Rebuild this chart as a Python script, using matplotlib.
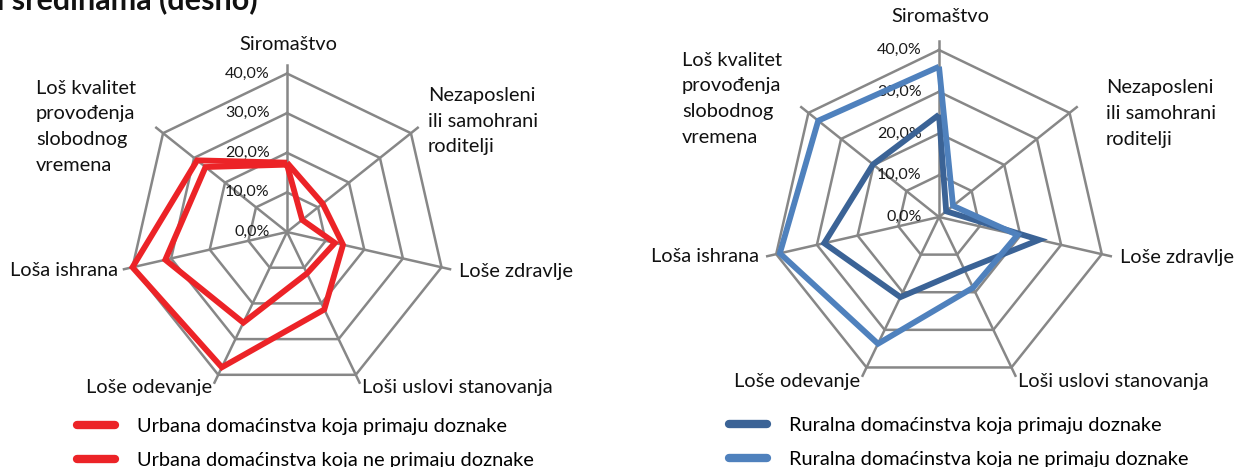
import numpy as np
import matplotlib
matplotlib.use("Agg")
import matplotlib.pyplot as plt
from matplotlib import transforms

plt.rcParams['font.family'] = ['Lato', 'DejaVu Sans']

# ---------------- data ----------------
categories = ['Siromaštvo', 'Nezaposleni ili samohrani roditelji', 'Loše zdravlje',
              'Loši uslovi stanovanja', 'Loše odevanje', 'Loša ishrana',
              'Loš kvalitet provođenja slobodnog vremena']
levels = [0, 10, 20, 30, 40]
level_labels = ['0,0%', '10,0%', '20,0%', '30,0%', '40,0%']

urban_recv = [17.0, 4.9, 12.4, 11.6, 25.4, 31.5, 26.3]
urban_norecv = [17.5, 11.5, 14.5, 21.7, 37.9, 40.0, 29.0]
rural_recv = [24.5, 2.2, 24.6, 14.0, 21.3, 28.2, 20.2]
rural_norecv = [36.0, 4.3, 19.3, 18.8, 33.7, 39.1, 37.0]

legend_urban = ['Urbana domaćinstva koja primaju doznake',
                'Urbana domaćinstva koja ne primaju doznake']
legend_rural = ['Ruralna domaćinstva koja primaju doznake',
                'Ruralna domaćinstva koja ne primaju doznake']

title_text = 'u ruralnim sredinama (desno)'

# ---------------- style ----------------
W, H = 1236, 467
GRID = '#878787'
RED = '#EC2327'
DARK = '#3B6396'
LIGHT = '#4F81BD'
FS = 14.4

fig = plt.figure(figsize=(W / 100, H / 100), dpi=100)

n = len(categories)
angles = np.linspace(0, 2 * np.pi, n, endpoint=False)
ang_closed = np.concatenate([angles, angles[:1]])


def px_axes(cx, cy, r):
    return fig.add_axes([(cx - r) / W, 1 - (cy + r) / H, 2 * r / W, 2 * r / H],
                        projection='polar')


def radar(ax, series, colors):
    ax.set_theta_zero_location('N')
    ax.set_theta_direction(-1)
    ax.set_ylim(0, 40)
    ax.set_axis_off()
    for lv in levels[1:]:
        ax.plot(ang_closed, [lv] * (n + 1), color=GRID, lw=1.8, zorder=1,
                clip_on=False)
    for a in angles:
        ax.plot([a, a], [0, 42.2], color=GRID, lw=1.8, zorder=1, clip_on=False)
    off = transforms.offset_copy(ax.transData, fig=fig, x=-12.5, y=0, units='points')
    for lv, lab in zip(levels, level_labels):
        ax.text(0, lv, lab, transform=off, ha='right', va='center',
                fontsize=11.5, color='#1a1a1a', zorder=2)
    handles = []
    for vals, c in zip(series, colors):
        v = np.concatenate([vals, vals[:1]])
        h, = ax.plot(ang_closed, v, color=c, lw=4.2, zorder=3, clip_on=False,
                     solid_joinstyle='miter', solid_capstyle='butt')
        handles.append(h)
    return handles


def ftext(x, y, s, **kw):
    fig.text(x / W, 1 - y / H, s, fontsize=FS, color='#111111', **kw)


# ---------- left chart ----------
axL = px_axes(287, 232, 158.5)
hL = radar(axL, [urban_recv, urban_norecv], [RED, RED])

ftext(288, 44, categories[0], ha='center', va='center')
for i, line in enumerate(['Nezaposleni', 'ili samohrani', 'roditelji']):
    ftext(428, 96 + 25.5 * i, line, ha='left', va='center')
ftext(459, 271, categories[2], ha='left', va='center')
ftext(362, 388, categories[3], ha='left', va='center')
ftext(212, 388, categories[4], ha='right', va='center')
ftext(118, 270, categories[5], ha='right', va='center')
for i, line in enumerate(['Loš kvalitet', 'provođenja', 'slobodnog', 'vremena']):
    ftext(36, 88 + 25.8 * i, line, ha='left', va='center')

# ---------- right chart ----------
axR = px_axes(939, 217, 167)
hR = radar(axR, [rural_recv, rural_norecv], [DARK, LIGHT])

ftext(940, 17, categories[0], ha='center', va='center')
for i, line in enumerate(['Nezaposleni', 'ili samohrani', 'roditelji']):
    ftext(1106, 88 + 25.5 * i, line, ha='left', va='center')
ftext(1120, 257, categories[2], ha='left', va='center')
ftext(1018, 382, categories[3], ha='left', va='center')
ftext(860, 382, categories[4], ha='right', va='center')
ftext(759, 257, categories[5], ha='right', va='center')
for i, line in enumerate(['Loš kvalitet', 'provođenja', 'slobodnog', 'vremena']):
    ftext(682, 60 + 25.8 * i, line, ha='left', va='center')

# ---------- legends ----------
def legend(handles, labels, x, y):
    proxies = [plt.Line2D([], [], color=h.get_color(), lw=6, solid_capstyle='round')
               for h in handles]
    fig.legend(proxies, labels, loc='upper left',
               bbox_to_anchor=(x / W, 1 - y / H), frameon=False, fontsize=FS,
               handlelength=1.9, handletextpad=1.1, labelspacing=0.86,
               borderpad=0, borderaxespad=0)

legend(hL, legend_urban, 77, 418)
legend(hR, legend_rural, 729, 417)

# ---------- cut-off title ----------
fig.text(258 / W, 1 - 9 / H, title_text, ha='right', va='baseline',
         fontsize=22, fontweight='bold', color='#111111')

fig.savefig('out.png', dpi=100)
